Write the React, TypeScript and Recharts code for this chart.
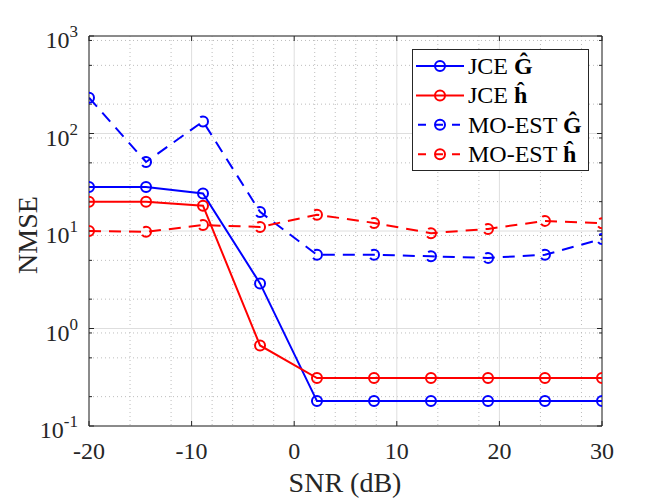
import { LineChart, Line, XAxis, YAxis, CartesianGrid, ReferenceLine, Label } from 'recharts';

// SNR points (linspace -20..30, 10 points)
const snr = [-20, -14.44, -8.89, -3.33, 2.22, 7.78, 13.33, 18.89, 24.44, 30];
const jceG = [28.3, 28.3, 24.3, 2.9, 0.18, 0.18, 0.18, 0.18, 0.18, 0.18];
const jceH = [20, 20, 18.2, 0.67, 0.31, 0.31, 0.31, 0.31, 0.31, 0.31];
const moG = [233, 51, 133, 15.7, 5.7, 5.7, 5.5, 5.3, 5.7, 8.3];
const moH = [10, 9.8, 11.5, 11, 14.7, 12.1, 9.5, 10.5, 12.7, 12.0];

const xTicks = [-20, -10, 0, 10, 20, 30];
const xMinor = [-18, -16, -14, -12, -8, -6, -4, -2, 2, 4, 6, 8, 12, 14, 16, 18, 22, 24, 26, 28];
const yTicks = [0.1, 1, 10, 100, 1000];
const yMinor: number[] = [];
[0.1, 1, 10, 100].forEach((d) => {
  for (let k = 2; k <= 9; k++) yMinor.push(+(d * k).toPrecision(3));
});

const data = snr.map((s, i) => ({ snr: s, jceG: jceG[i], jceH: jceH[i], moG: moG[i], moH: moH[i] }));

const FONT = 'Liberation Serif, Times New Roman, serif';
const INK = '#262626';
const BLUE = '#0000ff';
const RED = '#ff0000';

const YTick = ({ x, y, payload }: any) => {
  const exp = Math.round(Math.log10(payload.value));
  return (
    <text x={x - 11} y={y + 12} textAnchor="end" fontFamily={FONT} fontSize={24} fill={INK}>
      10
      <tspan dy={-11} fontSize={17}>{exp}</tspan>
    </text>
  );
};

const XTick = ({ x, payload }: any) => (
  <text x={x} y={459} textAnchor="middle" fontFamily={FONT} fontSize={24} fill={INK}>
    {payload.value}
  </text>
);

const tickMarks = (len: number, dir: 'h' | 'v') => (p: any) => {
  if (dir === 'h') {
    return (
      <g key={p.key}>
        <line x1={p.x1} y1={p.y1} x2={p.x1 + len} y2={p.y1} stroke={INK} strokeWidth={1} />
        <line x1={p.x2 - len} y1={p.y2} x2={p.x2} y2={p.y2} stroke={INK} strokeWidth={1} />
      </g>
    );
  }
  return (
    <g key={p.key}>
      <line x1={p.x1} y1={p.y1} x2={p.x1} y2={p.y1 + len} stroke={INK} strokeWidth={1} />
      <line x1={p.x2} y1={p.y2 - len} x2={p.x2} y2={p.y2} stroke={INK} strokeWidth={1} />
    </g>
  );
};

const legendItems = [
  { label: 'JCE ', hat: 'Ĝ', color: BLUE, dashed: false },
  { label: 'JCE ', hat: 'ĥ', color: RED, dashed: false },
  { label: 'MO-EST ', hat: 'Ĝ', color: BLUE, dashed: true },
  { label: 'MO-EST ', hat: 'ĥ', color: RED, dashed: true },
];

function LegendBox() {
  return (
    <svg width={178} height={123} style={{ position: 'absolute', left: 412, top: 49 }}>
      <rect x={0.5} y={0.5} width={176} height={121} fill="#ffffff" stroke={INK} strokeWidth={1} />
      {legendItems.map((it, i) => {
        const cy = 17 + i * 29.4;
        return (
          <g key={i}>
            <line
              x1={4}
              x2={52}
              y1={cy}
              y2={cy}
              stroke={it.color}
              strokeWidth={2}
              strokeDasharray={it.dashed ? '8 9' : undefined}
              strokeDashoffset={it.dashed ? -2 : 0}
            />
            <circle cx={28} cy={cy} r={5} fill="none" stroke={it.color} strokeWidth={2} />
            <text x={56} y={cy + 8} fontFamily={FONT} fontSize={24} fill="#000">
              {it.label}
              <tspan fontWeight="bold">{it.hat}</tspan>
            </text>
          </g>
        );
      })}
    </svg>
  );
}

export default function App() {
  const dot = (c: string) => ({ r: 5, stroke: c, strokeWidth: 2, fill: 'none' });
  return (
    <div style={{ position: 'absolute', left: 0, top: 0, width: 664, height: 498, background: '#fff' }}>
      <LineChart width={664} height={498} data={data} margin={{ top: 36, right: 62, bottom: 0, left: 0 }}>
        <CartesianGrid horizontalValues={yMinor} verticalValues={xMinor} stroke="#bdbdbd" strokeDasharray="1 3" />
        <CartesianGrid horizontalValues={yTicks} verticalValues={xTicks} stroke="#dedede" />
        <CartesianGrid horizontalValues={yMinor} vertical={false} horizontal={tickMarks(3, 'h')} />
        <CartesianGrid horizontalValues={yTicks} verticalValues={xTicks} horizontal={tickMarks(5, 'h')} vertical={tickMarks(5, 'v')} />
        <XAxis
          dataKey="snr"
          type="number"
          domain={[-20, 30]}
          ticks={xTicks}
          height={72}
          tick={<XTick />}
          tickLine={false}
          axisLine={{ stroke: INK }}
          allowDataOverflow
        >
          <Label
            content={() => (
              <text x={345} y={492} textAnchor="middle" fontFamily={FONT} fontSize={28} fill={INK}>
                SNR (dB)
              </text>
            )}
          />
        </XAxis>
        <YAxis
          type="number"
          scale="log"
          domain={[0.1, 1000]}
          ticks={yTicks}
          width={89}
          tick={<YTick />}
          tickLine={false}
          tickSize={0}
          tickMargin={0}
          axisLine={{ stroke: INK }}
          allowDataOverflow
        >
          <Label
            content={() => (
              <text transform="translate(27,235) rotate(-90)" textAnchor="middle" dominantBaseline="central" fontFamily={FONT} fontSize={28} fill={INK}>
                NMSE
              </text>
            )}
          />
        </YAxis>
        <ReferenceLine y={1000} stroke={INK} />
        <ReferenceLine x={30} stroke={INK} />
        <Line dataKey="jceG" stroke={BLUE} strokeWidth={2} dot={dot(BLUE)} isAnimationActive={false} />
        <Line dataKey="jceH" stroke={RED} strokeWidth={2} dot={dot(RED)} isAnimationActive={false} />
        <Line dataKey="moG" stroke={BLUE} strokeWidth={2} strokeDasharray="12 8" dot={dot(BLUE)} isAnimationActive={false} />
        <Line dataKey="moH" stroke={RED} strokeWidth={2} strokeDasharray="12 8" dot={dot(RED)} isAnimationActive={false} />
      </LineChart>
      <LegendBox />
    </div>
  );
}
